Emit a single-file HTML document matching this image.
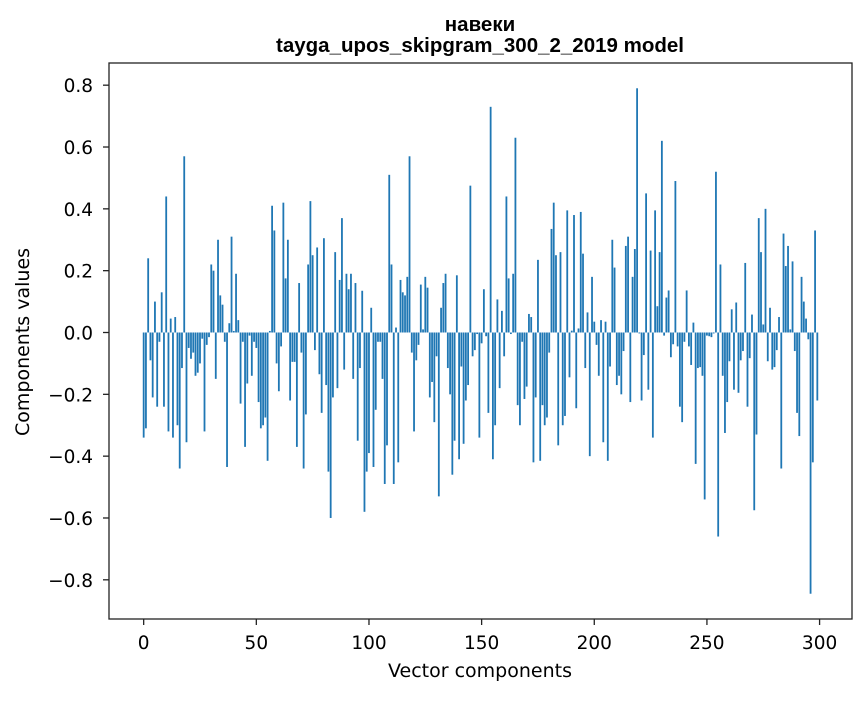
<!DOCTYPE html>
<html><head><meta charset="utf-8"><style>
body{margin:0;background:#fff;}
svg text{font-family:"DejaVu Sans",sans-serif;}
</style></head><body>
<svg id="chart" width="867" height="696" xmlns="http://www.w3.org/2000/svg">
<rect width="867" height="696" fill="#fff"/>
<text x="480" y="31" text-anchor="middle" font-size="20.5" font-weight="bold" style="font-family:'Liberation Sans',sans-serif">навеки</text>
<text x="480" y="52" text-anchor="middle" font-size="20.5" font-weight="bold" style="font-family:'Liberation Sans',sans-serif">tayga_upos_skipgram_300_2_2019 model</text>
<g id="bars"></g>
<g id="xticks"></g>
<g id="yticks"></g>
<rect x="109" y="63" width="743" height="556" fill="none" stroke="#222" stroke-width="1.3"/>
<text x="480" y="677" text-anchor="middle" font-size="19">Vector components</text>
<text transform="translate(29,342) rotate(-90)" text-anchor="middle" font-size="19">Components values</text>
</svg>
<script>
const values = [
-0.34,-0.31,0.24,-0.09,-0.21,0.10,-0.24,-0.03,0.13,-0.24,
0.44,-0.32,0.045,-0.34,0.05,-0.30,-0.44,-0.115,0.57,-0.355,
-0.05,-0.085,-0.065,-0.14,-0.13,-0.10,-0.02,-0.32,-0.04,-0.015,
0.22,0.20,-0.15,0.30,0.12,0.09,-0.03,-0.435,0.03,0.31,
0.005,0.19,0.04,-0.23,-0.03,-0.37,-0.165,-0.01,-0.14,-0.03,
-0.05,
-0.225,-0.31,-0.30,-0.275,-0.415,0.005,0.41,0.33,-0.10,-0.19,
-0.045,0.42,0.175,0.30,-0.22,-0.095,-0.095,-0.37,0.16,-0.065,
-0.44,-0.265,0.22,0.425,0.25,-0.057,0.275,-0.135,-0.26,0.305,
-0.17,-0.45,-0.60,-0.21,0.26,-0.18,0.17,0.37,-0.12,0.19,
0.14,0.19,-0.15,0.16,-0.35,-0.115,0.135,-0.58,-0.45,-0.39,
0.08,-0.435,-0.25,-0.03,-0.03,-0.15,-0.49,-0.365,0.51,0.22,
-0.49,0.016,-0.42,0.17,0.13,0.12,0.18,0.57,-0.065,-0.32,
-0.09,-0.04,0.155,0.01,0.18,0.145,-0.21,-0.16,-0.29,-0.077,
-0.53,0.08,0.16,0.19,-0.115,-0.20,-0.46,-0.35,0.185,-0.41,
-0.11,-0.36,-0.22,-0.17,0.475,-0.077,-0.057,-0.005,-0.34,-0.035,
0.14,-0.012,-0.26,0.73,-0.41,-0.30,0.107,-0.18,0.07,-0.077,
0.44,0.175,-0.005,0.19,0.63,-0.235,-0.30,-0.03,-0.215,-0.175,
0.06,0.05,-0.42,-0.21,0.235,-0.415,-0.235,-0.30,-0.275,-0.065,
0.335,0.42,0.25,-0.365,0.26,-0.30,-0.27,0.395,-0.145,0.006,
0.38,-0.245,0.013,0.39,0.255,-0.115,0.065,-0.40,0.18,0.035,
-0.04,-0.14,0.04,-0.355,0.035,-0.415,-0.11,0.30,0.21,-0.17,
-0.14,-0.20,-0.06,0.28,0.31,-0.225,0.18,0.27,0.79,-0.003,
-0.22,-0.073,0.45,-0.185,0.265,-0.34,0.395,0.085,0.26,0.62,
-0.01,0.113,0.136,-0.08,-0.038,0.49,-0.045,-0.24,-0.29,-0.03,
0.136,-0.045,-0.105,0.032,-0.425,-0.115,-0.112,-0.14,-0.54,-0.01,
-0.012,-0.015,-0.003,
0.52,-0.66,0.22,-0.14,-0.325,-0.225,-0.093,0.075,-0.185,0.097,
-0.195,-0.09,-0.06,0.225,-0.24,-0.083,0.058,-0.575,-0.33,0.37,
0.26,0.026,0.40,-0.093,0.08,-0.12,-0.112,-0.057,0.05,-0.44,
0.32,0.215,0.28,0.01,0.23,-0.06,-0.26,-0.335,0.18,0.10,
0.045,-0.022,-0.845,-0.42,0.33,-0.22
];
const xTickValues = [0,50,100,150,200,250,300];
const yTickValues = [0.8,0.6,0.4,0.2,0.0,-0.2,-0.4,-0.6,-0.8];
const yTickLabels = ["0.8","0.6","0.4","0.2","0.0","\u22120.2","\u22120.4","\u22120.6","\u22120.8"];

const NS="http://www.w3.org/2000/svg";
const L=109,R=852,T=63,B=619;
let dmin=Math.min(...values),dmax=Math.max(...values);
const xmin=-0.4-0.05*(values.length-0.2), xmax=values.length-0.6+0.05*(values.length-0.2);
const yr=dmax-dmin, ymin=dmin-0.05*yr, ymax=dmax+0.05*yr;
const xs=v=>L+(v-xmin)/(xmax-xmin)*(R-L);
const ys=v=>B-(v-ymin)/(ymax-ymin)*(B-T);
const bars=document.getElementById('bars');
values.forEach((v,i)=>{
  const r=document.createElementNS(NS,'rect');
  const x0=xs(i-0.4),x1=xs(i+0.4);
  const y0=ys(Math.max(v,0)),y1=ys(Math.min(v,0));
  r.setAttribute('x',x0);r.setAttribute('width',x1-x0);
  r.setAttribute('y',y0);r.setAttribute('height',Math.max(y1-y0,0.3));
  r.setAttribute('fill','#1f77b4');
  
  
  bars.appendChild(r);
});
const xg=document.getElementById('xticks');
xTickValues.forEach(v=>{
  const x=xs(v);
  const l=document.createElementNS(NS,'line');
  l.setAttribute('x1',x);l.setAttribute('x2',x);l.setAttribute('y1',B);l.setAttribute('y2',B+6);
  l.setAttribute('stroke','#222');l.setAttribute('stroke-width','1.3');
  
  
  xg.appendChild(l);
  const t=document.createElementNS(NS,'text');
  t.setAttribute('x',x);t.setAttribute('y',649);t.setAttribute('text-anchor','middle');t.setAttribute('font-size','18.5');
  t.textContent=String(v);
  
  
  xg.appendChild(t);
});
const yg=document.getElementById('yticks');
yTickValues.forEach((v,i)=>{
  const y=ys(v);
  const l=document.createElementNS(NS,'line');
  l.setAttribute('x1',L-6);l.setAttribute('x2',L);l.setAttribute('y1',y);l.setAttribute('y2',y);
  l.setAttribute('stroke','#222');l.setAttribute('stroke-width','1.3');
  
  
  yg.appendChild(l);
  const t=document.createElementNS(NS,'text');
  t.setAttribute('x',L-16);t.setAttribute('y',y+7);t.setAttribute('text-anchor','end');t.setAttribute('font-size','18.5');
  t.textContent=yTickLabels[i];
  
  
  yg.appendChild(t);
});
</script>
</body></html>
